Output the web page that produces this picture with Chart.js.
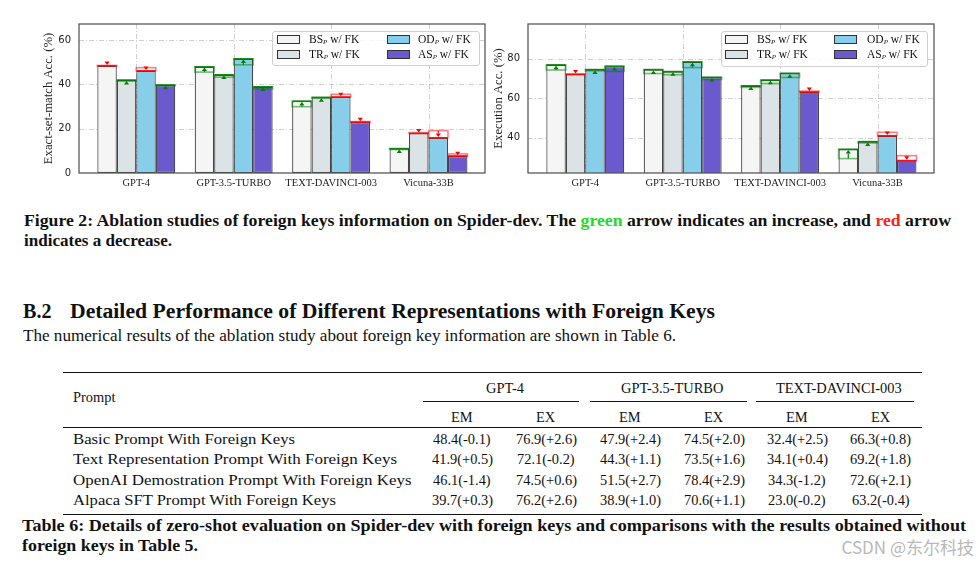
<!DOCTYPE html>
<html><head><meta charset="utf-8">
<script src="https://cdn.jsdelivr.net/npm/chart.js@4.4.0/dist/chart.umd.min.js"></script>
<style>
html,body{margin:0;padding:0;background:#fff;}
body{width:977px;height:565px;position:relative;overflow:hidden;font-family:'Liberation Serif',serif;color:#111;}
.cv{position:absolute;top:0;}
.t{position:absolute;white-space:nowrap;line-height:1;transform-origin:0 0;}
.rule{position:absolute;background:#111;}
.lg{position:absolute;border:1px solid #d0d0d0;border-radius:3px;background:rgba(255,255,255,0.85);box-sizing:border-box;}
.sw{position:absolute;width:23px;height:9px;border:1px solid #333;box-sizing:border-box;}
</style></head><body>
<canvas id="em" class="cv" width="490" height="200" style="left:0"></canvas>
<canvas id="ex" class="cv" width="497" height="200" style="left:480px"></canvas>
<script>
// ---------- data ----------
const categories = ['GPT-4', 'GPT-3.5-TURBO', 'TEXT-DAVINCI-003', 'Vicuna-33B'];
const seriesCodes = ['BS', 'TR', 'OD', 'AS'];
const seriesColors = ['#f5f5f5', '#dce3e6', '#87ceeb', '#6a5acd'];

// Exact-set-match accuracy with foreign keys, and change vs. without foreign keys
const emBS = [48.4, 47.9, 32.4, 11.0];
const emTR = [41.9, 44.3, 34.1, 17.9];
const emOD = [46.1, 51.5, 34.3, 15.9];
const emAS = [39.7, 38.9, 23.0, 7.7];
const emDeltaBS = [-0.1, 2.4, 2.5, 0.4];
const emDeltaTR = [0.5, 1.1, 0.4, -0.3];
const emDeltaOD = [-1.4, 2.7, -1.2, -3.2];
const emDeltaAS = [0.3, 1.0, -0.2, -0.9];

// Execution accuracy with foreign keys, and change vs. without foreign keys
const exBS = [76.9, 74.5, 66.3, 34.1];
const exTR = [72.1, 73.5, 69.2, 38.0];
const exOD = [74.5, 78.4, 72.6, 41.0];
const exAS = [76.2, 70.6, 63.2, 28.4];
const exDeltaBS = [2.6, 2.0, 0.8, 4.7];
const exDeltaTR = [-0.2, 1.6, 1.8, 0.7];
const exDeltaOD = [0.6, 2.9, 2.1, -1.7];
const exDeltaAS = [2.6, 1.1, -0.4, -2.5];

const yTicksEM = [0, 20, 40, 60];
const yTicksEX = [40, 60, 80];

const promptNames = ['Basic Prompt With Foreign Keys', 'Text Representation Prompt With Foreign Keys',
  'OpenAI Demostration Prompt With Foreign Keys', 'Alpaca SFT Prompt With Foreign Keys'];

// ---------- chart plugin: grid, frame, change arrows ----------
const changePlugin = {
  id: 'change',
  beforeDatasetsDraw(chart) {
    const ctx = chart.ctx, ca = chart.chartArea;
    ctx.save();
    ctx.strokeStyle = 'rgba(150,150,150,0.55)';
    ctx.lineWidth = 0.8;
    ctx.setLineDash([5, 2, 1, 2]);
    const ys = chart.scales.y, xs = chart.scales.x;
    ys.ticks.forEach(t => {
      const y = Math.round(ys.getPixelForValue(t.value)) + 0.5;
      if (y <= ca.top + 1 || y >= ca.bottom - 1) return;
      ctx.beginPath(); ctx.moveTo(ca.left, y); ctx.lineTo(ca.right, y); ctx.stroke();
    });
    xs.ticks.forEach(t => {
      const x = Math.round(xs.getPixelForValue(t.value)) + 0.5;
      ctx.beginPath(); ctx.moveTo(x, ca.top); ctx.lineTo(x, ca.bottom); ctx.stroke();
    });
    ctx.restore();
  },
  afterDatasetsDraw(chart) {
    const ctx = chart.ctx, ca = chart.chartArea, ys = chart.scales.y;
    ctx.save();
    ctx.strokeStyle = '#5a5a5a';
    ctx.lineWidth = 1.3;
    ctx.strokeRect(ca.left, ca.top, ca.right - ca.left, ca.bottom - ca.top);
    chart.data.datasets.forEach((ds, d) => {
      const meta = chart.getDatasetMeta(d);
      meta.data.forEach((bar, i) => {
        const p = bar.getProps(['x', 'width'], true);
        const v1 = ds.data[i].y, dv = ds.delta[i], v0 = v1 - dv;
        const y1 = ys.getPixelForValue(v1), y0 = ys.getPixelForValue(v0);
        const up = dv >= 0;
        const rgb = up ? '0,128,0' : '255,0,0';
        const left = p.x - p.width / 2;
        ctx.setLineDash([]);
        ctx.strokeStyle = 'rgba(' + rgb + ',0.5)';
        ctx.lineWidth = 1.6;
        ctx.strokeRect(left, Math.min(y0, y1), p.width, Math.max(Math.abs(y1 - y0), 0.5));
        ctx.strokeStyle = 'rgba(' + rgb + ',0.85)';
        ctx.lineWidth = 1.4;
        ctx.beginPath(); ctx.moveTo(left, y1); ctx.lineTo(left + p.width, y1); ctx.stroke();
        // arrow
        const dir = up ? 1 : -1;
        const head = 3.5;
        ctx.strokeStyle = 'rgb(' + rgb + ')';
        ctx.fillStyle = 'rgb(' + rgb + ')';
        ctx.lineWidth = 1.2;
        const tipY = y1 + dir * 0.8;
        if (Math.abs(y0 - tipY) > head) {
          ctx.beginPath(); ctx.moveTo(p.x, y0); ctx.lineTo(p.x, tipY + dir * head); ctx.stroke();
        }
        ctx.beginPath();
        ctx.moveTo(p.x, tipY);
        ctx.lineTo(p.x - 2.6, tipY + dir * head);
        ctx.lineTo(p.x + 2.6, tipY + dir * head);
        ctx.closePath(); ctx.fill();
      });
    });
    ctx.restore();
  }
};

function makeChart(id, vals, deltas, yMin, yMax, yTicks, title, g) {
  const datasets = vals.map((arr, s) => ({
    label: seriesCodes[s] + ' w/ FK',
    data: arr.map((v, i) => ({ x: i, y: v })),
    delta: deltas[s],
    backgroundColor: seriesColors[s],
    borderColor: 'rgba(35,35,35,0.85)',
    borderWidth: 1.2,
    borderSkipped: false,
    categoryPercentage: 0.8,
    barPercentage: 1.0
  }));
  return new Chart(document.getElementById(id), {
    type: 'bar',
    data: { datasets },
    plugins: [changePlugin],
    options: {
      responsive: false, animation: false,
      layout: { padding: { left: 0, top: 24, right: g.padRight, bottom: 0 } },
      plugins: { legend: { display: false }, tooltip: { enabled: false } },
      scales: {
        x: {
          type: 'linear', min: -0.588, max: 3.58, offset: false, bounds: 'data',
          afterBuildTicks: s => { s.ticks = categories.map((c, i) => ({ value: i })); },
          afterFit: s => { s.height = 27; },
          grid: { display: false, drawTicks: false }, border: { display: false },
          ticks: { callback: v => categories[v] ?? '', font: { family: 'Liberation Serif', size: 10.5 }, color: '#222', padding: 4, maxRotation: 0, autoSkip: false }
        },
        y: {
          min: yMin, max: yMax,
          afterBuildTicks: s => { s.ticks = yTicks.map(v => ({ value: v })); },
          afterFit: s => { s.width = g.yWidth; },
          grid: { display: false, drawTicks: false }, border: { display: false },
          ticks: { font: { family: 'DejaVu Sans', size: 10 }, color: '#222', padding: 8 },
          title: { display: true, text: title, font: { family: 'Liberation Serif', size: 12.7 }, color: '#222', padding: { top: g.titlePad, bottom: 0 } }
        }
      }
    }
  });
}

makeChart('em', [emBS, emTR, emOD, emAS], [emDeltaBS, emDeltaTR, emDeltaOD, emDeltaAS],
  0, 67.2, yTicksEM, 'Exact-set-match Acc. (%)', { padRight: 5, yWidth: 79, titlePad: 41.4 });
makeChart('ex', [exBS, exTR, exOD, exAS], [exDeltaBS, exDeltaTR, exDeltaOD, exDeltaAS],
  22.1, 97.6, yTicksEX, 'Execution Acc. (%)', { padRight: 43, yWidth: 48, titlePad: 11.4 });

// ---------- text helpers ----------
function put(html, x, base, size, o) {
  o = o || {};
  const el = document.createElement('div');
  el.className = 't';
  el.innerHTML = html;
  el.style.fontSize = size + 'px';
  if (o.bold) el.style.fontWeight = 'bold';
  if (o.family) el.style.fontFamily = o.family;
  if (o.color) el.style.color = o.color;
  el.style.top = (base - (o.asc || 0.8375) * size) + 'px';
  document.body.appendChild(el);
  const w = el.getBoundingClientRect().width;
  const sx = o.w ? o.w / w : (o.sx || 1);
  const ww = w * sx;
  let left = x;
  if (o.align === 'center') left = x - ww / 2;
  else if (o.align === 'right') left = x - ww;
  el.style.left = left + 'px';
  if (sx !== 1) el.style.transform = 'scaleX(' + sx + ')';
  return el;
}
function rule(x1, x2, y, h) {
  const r = document.createElement('div');
  r.className = 'rule';
  r.style.left = x1 + 'px'; r.style.width = (x2 - x1) + 'px';
  r.style.top = (y - h / 2) + 'px'; r.style.height = h + 'px';
  document.body.appendChild(r);
}

// ---------- legends ----------
function legend(box, sw1, tx1, sw2, tx2) {
  const b = document.createElement('div');
  b.className = 'lg';
  b.style.left = box[0] + 'px'; b.style.top = box[1] + 'px';
  b.style.width = box[2] + 'px'; b.style.height = box[3] + 'px';
  document.body.appendChild(b);
  const rows = [43.3, 58.3];
  seriesCodes.forEach((code, s) => {
    const col = s < 2 ? 0 : 1, row = s % 2;
    const sw = document.createElement('div');
    sw.className = 'sw';
    sw.style.left = (col ? sw2 : sw1) + 'px';
    sw.style.top = (rows[row] - 8.3) + 'px';
    sw.style.background = seriesColors[s];
    document.body.appendChild(sw);
    put(code + '<sub style="font-style:italic;font-size:0.6em;vertical-align:-0.2em">P</sub> w/ FK',
      col ? tx2 : tx1, rows[row], 11.5);
  });
}
legend([272, 31, 208, 35], 277, 309, 387, 418);
legend([721, 31, 207, 36], 725, 757, 834, 867);

// ---------- figure caption ----------
put('Figure 2: Ablation studies of foreign keys information on Spider-dev. The <span style="color:#22dd22">green</span> arrow indicates an increase, and <span style="color:#ff2020">red</span> arrow',
  24, 226.7, 16, { bold: true, w: 927 });
put('indicates a decrease.', 24, 246.3, 16, { bold: true, w: 148 });

// ---------- section heading ----------
put('B.2', 23, 318.3, 20.5, { bold: true, w: 28.5 });
put('Detailed Performance of Different Representations with Foreign Keys', 70, 318.3, 20.5, { bold: true, w: 645 });
put('The numerical results of the ablation study about foreign key information are shown in Table 6.', 22.5, 341.7, 16, { w: 653 });

// ---------- table ----------
const tableModels = categories.slice(0, 3);
const modelCenters = [505, 672, 838.5];
const colCenters = [[462, 546], [630, 714], [797, 880.5]];
const cmid = [[423, 579], [590, 746.5], [756, 914]];
rule(62.5, 922, 372.3, 1.6);
rule(62.5, 922, 427.7, 1);
rule(62.5, 922, 514.3, 1.6);
cmid.forEach(c => rule(c[0], c[1], 401, 1));
put('Prompt', 73, 402.3, 15.5, { sx: 0.93 });
tableModels.forEach((m, k) => {
  put(m, modelCenters[k], 393.3, 15.5, { align: 'center', sx: 0.93 });
  put('EM', colCenters[k][0], 421.7, 15.5, { align: 'center', sx: 0.93 });
  put('EX', colCenters[k][1], 421.7, 15.5, { align: 'center', sx: 0.93 });
});
const emAll = [emBS, emTR, emOD, emAS], emDAll = [emDeltaBS, emDeltaTR, emDeltaOD, emDeltaAS];
const exAll = [exBS, exTR, exOD, exAS], exDAll = [exDeltaBS, exDeltaTR, exDeltaOD, exDeltaAS];
const fmt = (v, d) => v.toFixed(1) + '(' + (d >= 0 ? '+' : '-') + Math.abs(d).toFixed(1) + ')';
const rowBase = [443.5, 464, 484.5, 505];
const rowW = [222, 324, 338.5, 263];
promptNames.forEach((name, r) => {
  put(name, 73, rowBase[r], 15.5, { w: rowW[r] });
  tableModels.forEach((m, k) => {
    put(fmt(emAll[r][k], emDAll[r][k]), colCenters[k][0], rowBase[r], 15.5, { align: 'center', sx: 0.93 });
    put(fmt(exAll[r][k], exDAll[r][k]), colCenters[k][1], rowBase[r], 15.5, { align: 'center', sx: 0.93 });
  });
});
put('Table 6: Details of zero-shot evaluation on Spider-dev with foreign keys and comparisons with the results obtained without',
  22, 531, 16, { bold: true, w: 944 });
put('foreign keys in Table 5.', 22, 551, 16, { bold: true, w: 176 });
put('CSDN @东尔科技', 974, 553, 17, { family: "'Noto Sans CJK SC', sans-serif", color: '#b8b8b8', align: 'right', asc: 0.88 });
</script>
</body></html>
